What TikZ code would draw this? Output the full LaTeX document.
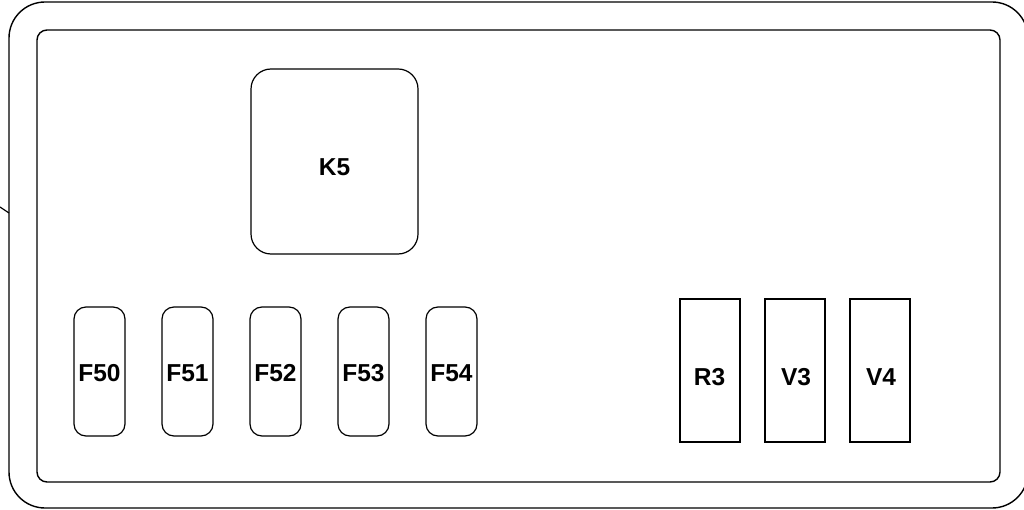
\documentclass[tikz,border=0pt]{standalone}
\usepackage{fontspec}
\setmainfont{Liberation Sans}
\begin{document}
\begin{tikzpicture}[x=1pt,y=-1pt,
  frame/.style={draw=black,line width=1.4pt},
  tag/.style={font=\fontsize{24.5}{24.5}\selectfont\bfseries,inner sep=0pt},
  fuse/.style={draw=black,line width=1.2pt,rounded corners=12pt,minimum width=51pt,minimum height=129pt,inner sep=0pt},
  relay/.style={draw=black,line width=1.2pt,rounded corners=20pt,minimum width=167pt,minimum height=185pt,inner sep=0pt},
  part/.style={draw=black,line width=1.2pt,minimum width=60pt,minimum height=143pt,inner sep=0pt}]
\useasboundingbox (0,0) rectangle (1024,510);
\draw[frame,rounded corners=36pt] (9,2) rectangle (1028,508);
\draw[frame,rounded corners=10pt] (37,30) rectangle (1000,482);
\coordinate (tipA) at (0,207);
\coordinate (tipB) at (9,213);
\draw[line width=1.2pt] (tipA) -- (tipB);
\node[relay] (K5) at (334.5,161.5) {};
\node[tag] at ([yshift=-6pt]K5.center) {K5};
\node[fuse] (F50) at (99.5,371.5) {};
\node[fuse] (F51) at (187.5,371.5) {};
\node[fuse] (F52) at (275.5,371.5) {};
\node[fuse] (F53) at (363.5,371.5) {};
\node[fuse] (F54) at (451.5,371.5) {};
\foreach \n in {F50,F51,F52,F53,F54}
  \node[tag] at ([yshift=-2pt]\n.center) {\n};
\node[part] (R3) at (710,370.5) {};
\node[part] (V3) at (795,370.5) {};
\node[part] (V4) at (880,370.5) {};
\foreach \n/\d in {R3/-0.5,V3/1,V4/1}
  \node[tag] at ([xshift=\d pt,yshift=-6.5pt]\n.center) {\n};
\end{tikzpicture}
\end{document}
